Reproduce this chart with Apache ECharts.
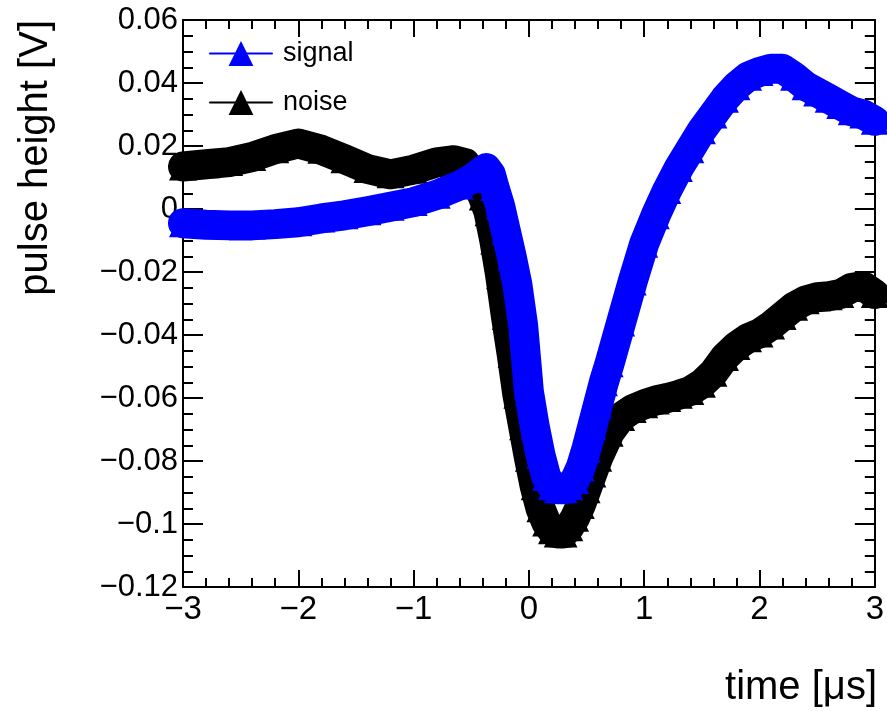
<!DOCTYPE html>
<html>
<head>
<meta charset="utf-8">
<script src="https://cdn.jsdelivr.net/npm/echarts@6/dist/echarts.min.js"></script>
<style>
html,body{margin:0;padding:0;background:#fff;}
#c{width:887px;height:711px;}
</style>
</head>
<body>
<div id="c"></div>
<script>
// ---- data ----
const signalX = [-3, -2.8, -2.6, -2.4, -2.2, -2.0, -1.8, -1.6, -1.4, -1.2, -1.0, -0.8, -0.6, -0.5, -0.45, -0.4, -0.37, -0.33, -0.3, -0.25, -0.2, -0.15, -0.1, -0.05, 0, 0.05, 0.1, 0.15, 0.2, 0.25, 0.3, 0.35, 0.4, 0.45, 0.5, 0.55, 0.6, 0.65, 0.7, 0.8, 0.9, 1.0, 1.1, 1.2, 1.3, 1.4, 1.5, 1.6, 1.7, 1.8, 1.9, 2.0, 2.1, 2.2, 2.3, 2.4, 2.5, 2.6, 2.7, 2.8, 2.9, 3.0];
const signalY = [-0.0045, -0.005, -0.0052, -0.0052, -0.0048, -0.0042, -0.003, -0.002, -0.0007, 0.0007, 0.0022, 0.0045, 0.0075, 0.0095, 0.0108, 0.0122, 0.013, 0.011, 0.007, 0.001, -0.007, -0.015, -0.024, -0.037, -0.058, -0.069, -0.078, -0.085, -0.088, -0.089, -0.089, -0.088, -0.086, -0.082, -0.076, -0.069, -0.062, -0.055, -0.049, -0.036, -0.023, -0.011, -0.002, 0.006, 0.013, 0.019, 0.025, 0.030, 0.035, 0.039, 0.042, 0.0435, 0.0445, 0.0445, 0.042, 0.039, 0.037, 0.035, 0.033, 0.031, 0.030, 0.028];

const noiseX = [-3, -2.8, -2.6, -2.4, -2.2, -2.0, -1.8, -1.6, -1.4, -1.2, -1.0, -0.8, -0.65, -0.55, -0.5, -0.45, -0.4, -0.35, -0.3, -0.25, -0.2, -0.15, -0.1, -0.05, 0, 0.05, 0.1, 0.15, 0.2, 0.25, 0.3, 0.35, 0.4, 0.45, 0.5, 0.55, 0.6, 0.7, 0.8, 0.9, 1.0, 1.1, 1.2, 1.3, 1.4, 1.5, 1.6, 1.7, 1.8, 1.9, 2.0, 2.1, 2.2, 2.3, 2.4, 2.5, 2.6, 2.7, 2.8, 2.9, 3.0];
const noiseY = [0.0135, 0.0142, 0.0149, 0.0165, 0.019, 0.0208, 0.0188, 0.0158, 0.0127, 0.011, 0.0125, 0.0148, 0.0155, 0.0145, 0.012, 0.008, 0.004, -0.001, -0.010, -0.021, -0.034, -0.046, -0.059, -0.069, -0.079, -0.088, -0.095, -0.0995, -0.102, -0.103, -0.103, -0.101, -0.098, -0.094, -0.089, -0.084, -0.079, -0.071, -0.066, -0.0635, -0.062, -0.0608, -0.060, -0.059, -0.0578, -0.0555, -0.052, -0.047, -0.0435, -0.041, -0.0395, -0.037, -0.034, -0.031, -0.029, -0.028, -0.0277, -0.027, -0.025, -0.0245, -0.027];

const xTickLabels = ['\u22123', '\u22122', '\u22121', '0', '1', '2', '3'];
const yTickLabels = ['\u22120.12', '\u22120.1', '\u22120.08', '\u22120.06', '\u22120.04', '\u22120.02', '0', '0.02', '0.04', '0.06'];
const seriesNames = ['signal', 'noise'];
const xTitle = 'time [\u03bcs]';
const yTitle = 'pulse height [V]';

// ---- chart ----
const X_MIN = -3, X_MAX = 3, X_INT = 1;
const Y_MIN = -0.12, Y_MAX = 0.06, Y_INT = 0.02;
const FONT = "'Liberation Sans', Arial, sans-serif";

function zip(xs, ys) { return xs.map((x, i) => [x, ys[i]]); }

const lineCommon = { show: true, onZero: false, lineStyle: { color: '#000', width: 2 } };

function xAxisDef(pos, labels) {
  return {
    type: 'value', position: pos, min: X_MIN, max: X_MAX, interval: X_INT,
    axisLine: lineCommon, splitLine: { show: false }, minorSplitLine: { show: false },
    axisTick: { show: true, inside: true, length: 17, lineStyle: { color: '#000', width: 2 } },
    minorTick: { show: true, splitNumber: 5, length: 9, lineStyle: { color: '#000', width: 2 } },
    axisLabel: {
      show: labels, margin: 6, color: '#000', fontSize: 33, fontFamily: FONT,
      showMinLabel: true, showMaxLabel: true,
      formatter: v => xTickLabels[Math.round((v - X_MIN) / X_INT)]
    }
  };
}
function yAxisDef(pos, labels) {
  return {
    type: 'value', position: pos, min: Y_MIN, max: Y_MAX, interval: Y_INT,
    axisLine: lineCommon, splitLine: { show: false }, minorSplitLine: { show: false },
    axisTick: { show: true, inside: true, length: 20, lineStyle: { color: '#000', width: 2 } },
    minorTick: { show: true, splitNumber: 4, length: 10, lineStyle: { color: '#000', width: 2 } },
    axisLabel: {
      show: labels, margin: 5, color: '#000', fontSize: 31, fontFamily: FONT,
      showMinLabel: true, showMaxLabel: true,
      formatter: v => yTickLabels[Math.round((v - Y_MIN) / Y_INT)]
    }
  };
}

function bandSeries(name, xs, ys, color, z) {
  return {
    name: name, type: 'line', xAxisIndex: 0, yAxisIndex: 0,
    data: zip(xs, ys), z: z,
    symbol: 'triangle', symbolSize: 28, showSymbol: true, showAllSymbol: true,
    itemStyle: { color: color },
    lineStyle: { color: color, width: 30, join: 'round', cap: 'round' },
    clip: true, animation: false, silent: true
  };
}

const chart = echarts.init(document.getElementById('c'), null, { renderer: 'canvas' });
chart.setOption({
  backgroundColor: '#fff',
  animation: false,
  grid: { left: 183, right: 10, top: 20, bottom: 124, containLabel: false },
  xAxis: [xAxisDef('bottom', true), xAxisDef('top', false)],
  yAxis: [yAxisDef('left', true), yAxisDef('right', false)],
  legend: {
    data: [seriesNames[0], seriesNames[1]],
    orient: 'vertical', left: 209, top: 40, padding: 0,
    itemWidth: 62, itemHeight: 31, itemGap: 22,
    lineStyle: { width: 2 },
    textStyle: { color: '#000', fontSize: 27, fontFamily: FONT, padding: [0, 0, 0, 6] },
    selectedMode: false
  },
  graphic: [
    { type: 'text', x: 877, y: 688, style: { text: xTitle, fill: '#000', font: "40px 'Liberation Sans', Arial, sans-serif", align: 'right', verticalAlign: 'middle' } },
    { type: 'text', x: 36, y: 20, rotation: Math.PI / 2, style: { text: yTitle, fill: '#000', font: "40px 'Liberation Sans', Arial, sans-serif", align: 'right', verticalAlign: 'middle' } }
  ],
  series: [
    bandSeries(seriesNames[1], noiseX, noiseY, '#000000', 2),
    bandSeries(seriesNames[0], signalX, signalY, '#0000ff', 3)
  ]
});
</script>
</body>
</html>
